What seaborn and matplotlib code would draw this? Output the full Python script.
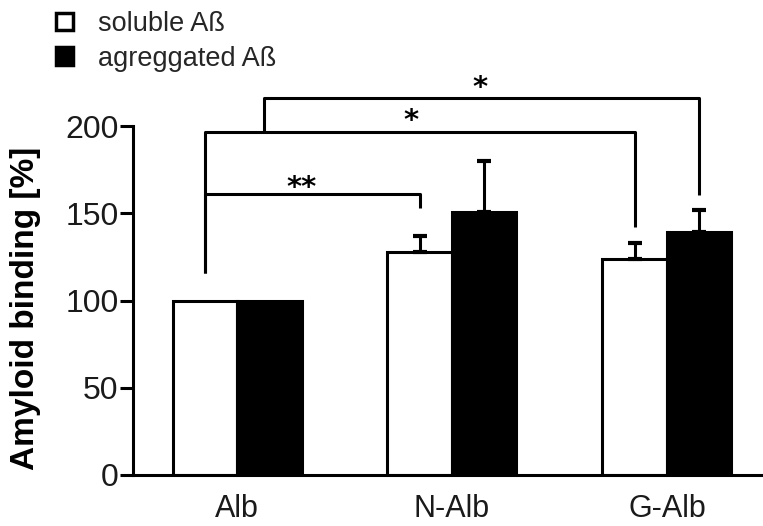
import matplotlib
matplotlib.use("Agg")
import matplotlib.pyplot as plt
from matplotlib.patches import Patch
from matplotlib.container import BarContainer
import seaborn as sns
import pandas as pd

# ---- data -------------------------------------------------------------
groups = ["Alb", "N-Alb", "G-Alb"]
series = ["soluble A\u00df", "agreggated A\u00df"]
soluble_vals = [100, 128, 124]
soluble_err = [0, 9, 9]
aggregated_vals = [100, 151, 139]
aggregated_err = [0, 29, 13]
yticks = [0, 50, 100, 150, 200]
ylabel = "Amyloid binding [%]"

# significance brackets: (left bar, right bar), heights in data units
bracket_bars = [((0, 0), (1, 0)), ((0, 0), (2, 0)), ((0, 0), (2, 1))]
bracket_left_x_offset = [0.0, 0.0, 0.276]
bracket_left_bottom = [115.7, 115.7, 196.4]
bracket_top = [161, 196.4, 215.9]
bracket_right_bottom = [153, 142.3, 160.5]
stars = ["**", "*", "*"]
star_x = [0.30, 0.81, 1.13]
star_y = [164.5, 203, 222]

# ---- table ------------------------------------------------------------
df = pd.DataFrame({
    "group": groups * 2,
    "series": [series[0]] * 3 + [series[1]] * 3,
    "value": soluble_vals + aggregated_vals,
})
errs = [soluble_err, aggregated_err]

sns.set_theme(style="white")
plt.rcParams["font.family"] = ["Liberation Sans", "DejaVu Sans"]

W, H = 763, 526
fig = plt.figure(figsize=(W / 100, H / 100), dpi=100)
ax = fig.add_axes([133 / W, (H - 475) / H, (W - 133) / W, 475 / H])

lw = 2.2
sns.barplot(data=df, x="group", y="value", hue="series", order=groups,
            hue_order=series, palette={series[0]: "white", series[1]: "black"},
            edgecolor="black", linewidth=lw, width=0.6, errorbar=None,
            legend=False, saturation=1, ax=ax, zorder=2)

# bar centers / tops
bar_conts = [c for c in ax.containers if isinstance(c, BarContainer)]
centers = {}
for h, cont in enumerate(bar_conts):
    for g, p in enumerate(cont.patches):
        cx = p.get_x() + p.get_width() / 2
        top = p.get_height()
        centers[(g, h)] = (cx, top)
        e = errs[h][g]
        if e > 0:
            ax.errorbar(cx, top, yerr=[[0], [e]], fmt="none", ecolor="black",
                        elinewidth=lw, capsize=5, capthick=3, zorder=3)

# brackets
for i, ((lb, rb), off) in enumerate(zip(bracket_bars, bracket_left_x_offset)):
    xl = centers[lb][0] + off
    xr = centers[rb][0]
    ax.plot([xl, xl, xr, xr],
            [bracket_left_bottom[i], bracket_top[i], bracket_top[i], bracket_right_bottom[i]],
            color="black", lw=lw, clip_on=False, solid_joinstyle="round",
            solid_capstyle="butt", zorder=4)
for s, sx, sy in zip(stars, star_x, star_y):
    ax.text(sx, sy, s, ha="center", va="center", fontsize=21, fontweight="bold",
            family="DejaVu Sans", color="black", clip_on=False)

# axes styling
ax.set_xlim(-0.484, 2.447)
ax.set_ylim(0, 475 / 1.745)
ax.set_yticks(yticks)
ax.set_yticklabels([str(t) for t in yticks])
sns.despine(ax=ax)
ax.spines["left"].set_bounds(0, 200)
for sp in ("left", "bottom"):
    ax.spines[sp].set_linewidth(lw)
    ax.spines[sp].set_color("black")
    ax.spines[sp].set_zorder(5)
ax.tick_params(axis="y", left=True, direction="out", length=9.5, width=lw,
               color="black", pad=1, labelsize=23, labelcolor="#1a1a1a")
ax.tick_params(axis="x", bottom=False, length=0, pad=14, labelsize=22,
               labelcolor="#1a1a1a")
ax.set_xlabel("")
ax.set_ylabel(ylabel, fontsize=24, fontweight="bold", color="black",
              ha="center", va="center")
ax.yaxis.set_label_coords(-0.1714, 0.3516)
ax.grid(False)

# legend
handles = [Patch(facecolor="white", edgecolor="black", linewidth=2.5),
           Patch(facecolor="black", edgecolor="black", linewidth=2.5)]
fig.legend(handles, series, loc="upper left",
           bbox_to_anchor=(51 / W, 1 - 6 / H), frameon=False, fontsize=19.5,
           handlelength=0.6, handleheight=0.6, handletextpad=0.95,
           labelspacing=0.3, borderpad=0.2, borderaxespad=0)

fig.savefig("out.png", dpi=100)
